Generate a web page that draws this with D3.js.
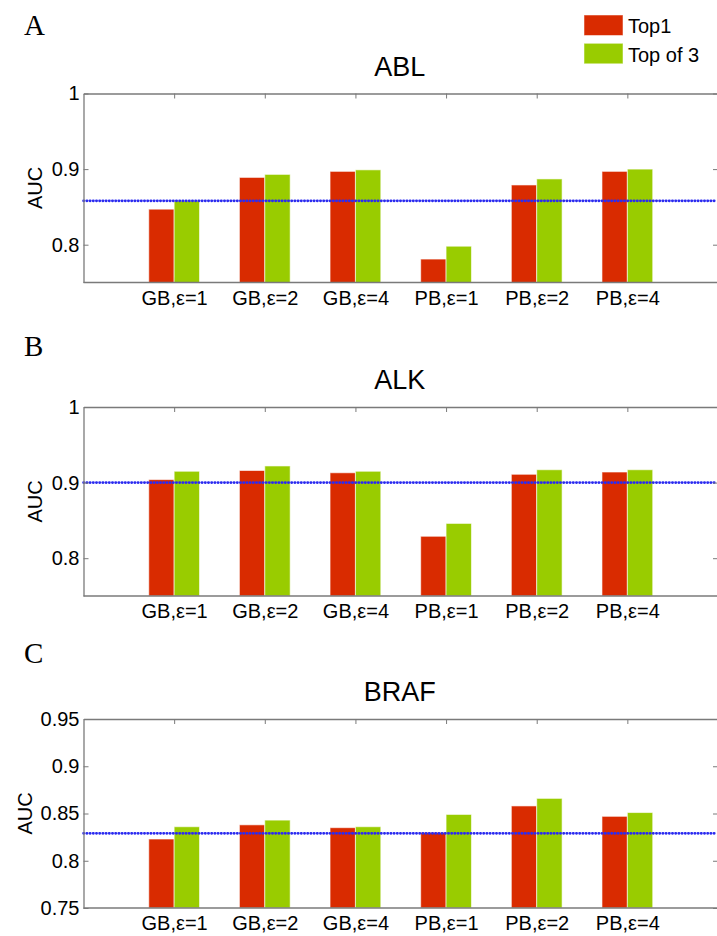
<!DOCTYPE html>
<html>
<head>
<meta charset="utf-8">
<script src="https://cdn.jsdelivr.net/npm/d3@7"></script>
<style>
  body { margin: 0; background: #fff; }
  svg { display: block; }
</style>
</head>
<body>
<div id="chart"></div>
<script>
// chart data
var categories = ["GB,\u03b5=1", "GB,\u03b5=2", "GB,\u03b5=4", "PB,\u03b5=1", "PB,\u03b5=2", "PB,\u03b5=4"];
var seriesNames = ["Top1", "Top of 3"];

var ablTop1 = [0.847, 0.889, 0.897, 0.781, 0.879, 0.897];
var ablTop3 = [0.858, 0.893, 0.899, 0.798, 0.887, 0.900];
var ablBaseline = 0.858;

var alkTop1 = [0.904, 0.916, 0.913, 0.829, 0.911, 0.914];
var alkTop3 = [0.915, 0.922, 0.915, 0.846, 0.917, 0.917];
var alkBaseline = 0.900;

var brafTop1 = [0.823, 0.838, 0.835, 0.830, 0.858, 0.847];
var brafTop3 = [0.836, 0.843, 0.836, 0.849, 0.866, 0.851];
var brafBaseline = 0.829;

var ticksAB = [0.8, 0.9, 1];
var ticksC = [0.75, 0.8, 0.85, 0.9, 0.95];

// colours
var colours = ["#d92b00", "#99cc00"],
    axisColour = "#7a7a7a",
    refColour = "#2b2bf0";

var width = 717, height = 936;
var plotLeft = 83.5, plotRight = 718;

var panels = [
    {letter: "A", title: "ABL",  top1: ablTop1,  top3: ablTop3,  base: ablBaseline,  domain: [0.75, 1],    ticks: ticksAB, y0: 93.5, letterY: 35,  labelX: 42},
    {letter: "B", title: "ALK",  top1: alkTop1,  top3: alkTop3,  base: alkBaseline,  domain: [0.75, 1],    ticks: ticksAB, y0: 407,  letterY: 356, labelX: 42},
    {letter: "C", title: "BRAF", top1: brafTop1, top3: brafTop3, base: brafBaseline, domain: [0.75, 0.95], ticks: ticksC,  y0: 719,  letterY: 663, labelX: 31.5}
];
var panelHeight = 189;

var svg = d3.select("#chart")
    .append("svg")
    .attr("width", width)
    .attr("height", height);

var sans = "'Liberation Sans', Arial, Helvetica, sans-serif",
    serif = "'Liberation Serif', 'Times New Roman', serif";

// x positions: categories at 1..6 on a 0..7 axis
var x = d3.scaleLinear()
    .domain([0, categories.length + 1])
    .range([plotLeft, plotRight]);
var barW = 0.28;

panels.forEach(function(p) {
    var y = d3.scaleLinear()
        .domain(p.domain)
        .range([p.y0 + panelHeight, p.y0]);

    var g = svg.append("g").attr("class", "panel");

    // panel letter
    g.append("text")
        .attr("x", 24)
        .attr("y", p.letterY)
        .style("font-family", serif)
        .style("font-size", "29px")
        .text(p.letter);

    // title
    g.append("text")
        .attr("x", (plotLeft + 716) / 2)
        .attr("y", p.y0 - 18)
        .attr("text-anchor", "middle")
        .style("font-family", sans)
        .style("font-size", "27px")
        .text(p.title);

    var pos = d3.range(1, categories.length + 1);

    // bottom ticks sit behind the bars
    g.append("g")
        .attr("transform", "translate(0," + (p.y0 + panelHeight) + ")")
        .call(d3.axisBottom(x).tickValues(pos).tickSizeInner(-5).tickSizeOuter(0).tickPadding(8)
            .tickFormat(function(d) { return categories[d - 1]; }))
        .call(function(a) {
            a.select(".domain").remove();
            a.selectAll("line").attr("stroke", axisColour);
            a.selectAll("text").style("font-family", sans).style("font-size", "20px").attr("fill", "#000");
        });

    // bars
    var rows = categories.map(function(c, i) {
        return {i: i + 1, v: [p.top1[i], p.top3[i]]};
    });
    var groups = g.selectAll(".grp")
        .data(rows)
        .enter()
        .append("g")
        .attr("class", "grp");
    groups.selectAll("rect")
        .data(function(d) { return d.v.map(function(v, k) { return {i: d.i, v: v, k: k}; }); })
        .enter()
        .append("rect")
        .attr("x", function(d) { return x(d.i - barW + d.k * barW); })
        .attr("width", function() { return x(barW) - x(0); })
        .attr("y", function(d) { return y(d.v); })
        .attr("height", function(d) { return y(p.domain[0]) - y(d.v); })
        .attr("fill", function(d) { return colours[d.k]; })
        .attr("stroke", "#fff")
        .attr("stroke-opacity", 0.6)
        .attr("stroke-width", 1);

    // reference line
    g.append("line")
        .attr("x1", plotLeft)
        .attr("x2", 716)
        .attr("y1", y(p.base))
        .attr("y2", y(p.base))
        .attr("stroke", refColour)
        .attr("stroke-width", 2.6)
        .attr("stroke-linecap", "round")
        .attr("stroke-dasharray", "0.4,2.8");

    // left axis
    g.append("g")
        .attr("transform", "translate(" + plotLeft + ",0)")
        .call(d3.axisLeft(y).tickValues(p.ticks).tickSizeInner(-5).tickSizeOuter(0).tickPadding(4)
            .tickFormat(function(d) { return String(+d.toFixed(2)); }))
        .call(function(a) {
            a.select(".domain").attr("stroke", axisColour).attr("stroke-width", 1.3);
            a.selectAll("line").attr("stroke", axisColour);
            a.selectAll("text").style("font-family", sans).style("font-size", "20px").attr("fill", "#000");
        });

    // right axis
    g.append("g")
        .attr("transform", "translate(" + plotRight + ",0)")
        .call(d3.axisRight(y).tickValues(p.ticks).tickSizeInner(-5).tickSizeOuter(0).tickFormat(""))
        .call(function(a) {
            a.select(".domain").attr("stroke", axisColour).attr("stroke-width", 1.3);
            a.selectAll("line").attr("stroke", axisColour);
        });

    // top axis
    g.append("g")
        .attr("transform", "translate(0," + p.y0 + ")")
        .call(d3.axisTop(x).tickValues(pos).tickSizeInner(-5).tickSizeOuter(0).tickFormat(""))
        .call(function(a) {
            a.select(".domain").attr("stroke", axisColour).attr("stroke-width", 1.3);
            a.selectAll("line").attr("stroke", axisColour);
        });

    // bottom line on top of bars
    g.append("line")
        .attr("x1", plotLeft)
        .attr("x2", plotRight)
        .attr("y1", p.y0 + panelHeight)
        .attr("y2", p.y0 + panelHeight)
        .attr("stroke", axisColour)
        .attr("stroke-width", 1.3);

    // y label
    g.append("text")
        .attr("transform", "translate(" + p.labelX + "," + (p.y0 + panelHeight / 2) + ") rotate(-90)")
        .attr("text-anchor", "middle")
        .style("font-family", sans)
        .style("font-size", "20px")
        .text("AUC");
});

// legend
var legend = svg.append("g")
    .attr("class", "legend")
    .attr("transform", "translate(584, 15)");

legend.selectAll("rect")
    .data(seriesNames)
    .enter()
    .append("rect")
    .attr("x", 0)
    .attr("y", function(d, i) { return i * 28.3; })
    .attr("width", 39)
    .attr("height", 20.5)
    .attr("fill", function(d, i) { return colours[i]; })
    .attr("stroke", "#fff")
    .attr("stroke-opacity", 0.5);

legend.selectAll("text")
    .data(seriesNames)
    .enter()
    .append("text")
    .attr("x", 44)
    .attr("y", function(d, i) { return 18 + i * 28.5; })
    .style("font-family", sans)
    .style("font-size", "20px")
    .text(function(d) { return d; });
</script>
</body>
</html>
